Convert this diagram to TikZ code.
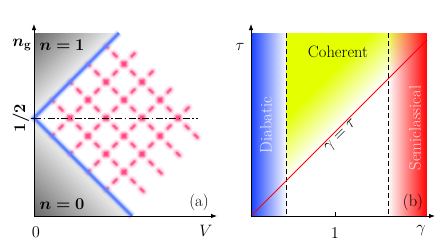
\RequirePackage{fix-cm}
\documentclass[tikz,border=0pt]{standalone}
\usepackage{bm}
\usetikzlibrary{arrows.meta,fadings}
\definecolor{blueS}{RGB}{25,65,255}
\definecolor{yelC}{RGB}{228,255,0}
\definecolor{redS}{RGB}{255,0,0}
\definecolor{vblue}{RGB}{95,130,255}
\definecolor{rpink}{RGB}{255,65,125}
\tikzfading[name=fadeinright, left color=transparent!100, right color=transparent!0]
\tikzset{
  axisline/.style={line width=0.8pt, -{Latex[length=6pt,width=4.5pt]}},
  lab/.style={inner sep=0pt, font=\fontsize{16.5}{19}\selectfont},
  rdash/.style={line cap=round, dash pattern=on 4.5pt off 8.23pt, dash phase=2.25pt},
  rglowA/.style={rdash, rpink, line width=8.5pt, opacity=0.09},
  rglowB/.style={rdash, rpink, line width=5.5pt, opacity=0.2},
  rcore/.style={rdash, rpink, line width=2.6pt, opacity=0.78},
  bglowA/.style={vblue, line width=8pt, opacity=0.15},
  bglowB/.style={vblue, line width=5pt, opacity=0.3},
  bcore/.style={vblue, line width=2.8pt},
  vdash/.style={line width=0.9pt, dash pattern=on 5pt off 3pt},
  dashdotline/.style={line width=0.9pt, dash pattern=on 7pt off 2.5pt on 1.5pt off 2.5pt}
}
\begin{document}
\begin{tikzpicture}[x=1pt,y=-1pt]
\useasboundingbox[fill=white] (0,0) rectangle (436,250);
% ===== panel (a) =====
\coordinate (oa) at (34,216);
\coordinate (ya) at (34,24);
\coordinate (xa) at (217,216);
\coordinate (apex) at (34,118);
\coordinate (bt) at (119,33);
\coordinate (bb) at (132,216);
\coordinate (dde) at (198,118);
\coordinate (tk) at (31,118);
% grey upper triangle
\begin{scope}
  \clip (34,33) -- (bt) -- (apex) -- cycle;
  \foreach \i in {0,...,33} {
    \pgfmathsetmacro\ua{67+2.5*\i}
    \pgfmathsetmacro\ub{\ua+3}
    \pgfmathsetmacro\up{60-55*(\i+0.5)/34}
    \fill[black!\up] (20,\ua-20) -- (\ua-20,20) -- (\ub-20,20) -- (20,\ub-20) -- cycle;
  }
\end{scope}
% grey lower triangle
\begin{scope}
  \clip (apex) -- (bb) -- (oa) -- cycle;
  \foreach \i in {0,...,39} {
    \pgfmathsetmacro\ua{182-2.5*\i}
    \pgfmathsetmacro\ub{\ua-3}
    \pgfmathsetmacro\up{60-55*(\i+0.5)/40}
    \fill[black!\up] (20,20+\ua) -- (150,150+\ua) -- (150,150+\ub) -- (20,20+\ub) -- cycle;
  }
\end{scope}
% red dashed grid
\foreach \cc [count=\k] in {-48,-12,24,60} {
  \coordinate (dr\k s) at ({(152+\cc)/2},{(152-\cc)/2});
  \coordinate (dr\k e) at ({(344+\cc)/2},{(344-\cc)/2});
  \draw[rglowA] (dr\k s) -- (dr\k e);
  \draw[rglowB] (dr\k s) -- (dr\k e);
  \draw[rcore] (dr\k s) -- (dr\k e);
}
\foreach \ss [count=\k] in {188,224,260,296} {
  \coordinate (ur\k s) at ({(\ss-84)/2},{(\ss+84)/2});
  \coordinate (ur\k e) at ({(\ss+86)/2},{(\ss-86)/2});
  \draw[rglowA] (ur\k s) -- (ur\k e);
  \draw[rglowB] (ur\k s) -- (ur\k e);
  \draw[rcore] (ur\k s) -- (ur\k e);
}
% blue V
\draw[bglowA] (bt) -- (apex) -- (bb);
\draw[bglowB] (bt) -- (apex) -- (bb);
\draw[bcore] (bt) -- (apex) -- (bb);
% dash-dot line
\draw[dashdotline] (apex) -- (dde);
% axes
\draw[axisline] (oa) -- (ya);
\draw[axisline] (oa) -- (xa);
\draw[line width=0.8pt] (apex) -- (tk);
% labels
\node[lab] (ng) at (22,45) {$\bm{n}_{\mathbf{g}}$};
\node[lab] (n1) at (62,45) {$\bm{n=1}$};
\node[lab, rotate=90] (half) at (21,118) {$\bm{1/2}$};
\node[lab] (n0) at (62,204) {$\bm{n=0}$};
\node[lab] (zero) at (36,232) {$0$};
\node[lab] (vlab) at (206,231) {$V$};
\node[lab] (pa) at (199,202) {(a)};
% ===== panel (b) =====
\coordinate (ob) at (251,216);
\coordinate (yb) at (251,24);
\coordinate (xb) at (435,216);
\coordinate (de) at (427,40);
\coordinate (l1t) at (286,33);
\coordinate (l1b) at (286,216);
\coordinate (l2t) at (388,33);
\coordinate (l2b) at (388,216);
\coordinate (tka) at (335,216);
\coordinate (tkb) at (335,212);
% blue strip
\shade[left color=blueS, right color=white] (251,33) rectangle (287,216);
% yellow region
\begin{scope}
  \clip (l1t) -- (427,33) -- (de) -- (286,181) -- cycle;
  \fill[yelC] (l1t) rectangle (427,216);
  \foreach \i in {0,...,30} {
    \pgfmathsetmacro\ua{405+2*\i}
    \pgfmathsetmacro\ub{\ua+2.6}
    \pgfmathsetmacro\up{100-100*(\i+0.5)/31}
    \fill[yelC!\up!white] (280,\ua-280) -- (440,\ua-440) -- (440,\ub-440) -- (280,\ub-280) -- cycle;
  }
\end{scope}
% red strip
\fill[redS, path fading=fadeinright] (l2t) rectangle (427,216);
% dashed lines
\draw[vdash] (l1t) -- (l1b);
\draw[vdash] (l2t) -- (l2b);
% diagonal
\draw[red, line width=1pt] (ob) -- (de);
% axes
\draw[axisline] (ob) -- (yb);
\draw[axisline] (ob) -- (xb);
\draw[line width=0.8pt] (tka) -- (tkb);
% labels
\node[lab] (tau) at (240,47) {$\tau$};
\node[lab] (gam) at (421,231) {$\gamma$};
\node[lab] (one) at (335,233) {$1$};
\node[lab] (coh) at (338,52) {Coherent};
\node[lab, rotate=90, text=white, text opacity=0.85] (dia) at (266,125) {Diabatic};
\node[lab, rotate=90, text=white, text opacity=0.8] (semi) at (415,128) {Semiclassical};
\node[lab, rotate=45, anchor=north, inner sep=2pt] (gt) at (336,131) {$\gamma=\tau$};
\node[lab] (pb) at (413,202) {(b)};
\end{tikzpicture}
\end{document}
